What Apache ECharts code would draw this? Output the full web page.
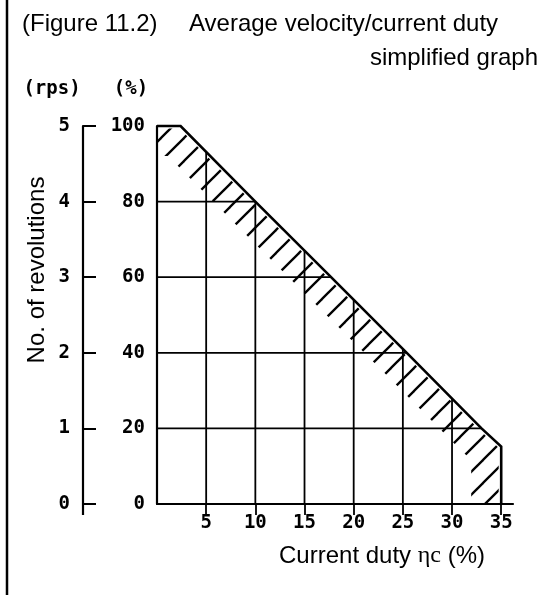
<!DOCTYPE html>
<html>
<head>
<meta charset="utf-8">
<script src="https://cdn.jsdelivr.net/npm/echarts@6/dist/echarts.min.js"></script>
<style>
  html, body { margin: 0; padding: 0; background: #fff; }
  #chart { width: 545px; height: 595px; }
</style>
</head>
<body>
<div id="chart"></div>
<script>
// ---- data ----
const boundaryX = [0, 2.4, 10, 17.7, 25.4, 33, 35, 35];
const boundaryY = [100, 100, 80, 60, 40, 20, 15.2, 0];
const gridXValues = [5, 10, 15, 20, 25, 30];
const gridYValues = [20, 40, 60, 80];
const xTickValues = [5, 10, 15, 20, 25, 30, 35];
const pctMin = 0, pctMax = 100, pctStep = 20;
const rpsMin = 0, rpsMax = 5, rpsStep = 1;
const xMin = 0, xMax = 36.2;

const titleLeft = '(Figure 11.2)';
const titleLine1 = 'Average velocity/current duty';
const titleLine2 = 'simplified graph';
const rpsUnit = '(rps)';
const pctUnit = '(%)';
const yName = 'No. of revolutions';

const SANS = '"Liberation Sans", Arial, sans-serif';
const MONO = '"DejaVu Sans Mono", "Liberation Mono", monospace';

// hatch pattern tile
function makeHatch() {
  const T = 23;
  const c = document.createElement('canvas');
  c.width = T; c.height = T;
  const g = c.getContext('2d');
  g.strokeStyle = '#000';
  g.lineWidth = 2.3;
  for (let k = -1; k <= 1; k++) {
    g.beginPath();
    g.moveTo(k * T - 2, T + 2);
    g.lineTo(k * T + T + 2, -2);
    g.stroke();
  }
  return c;
}
const hatchCanvas = makeHatch();

function boundaryAtX(x) {
  for (let i = 1; i < boundaryX.length; i++) {
    const x0 = boundaryX[i - 1], x1 = boundaryX[i];
    if (x >= x0 && x <= x1 && x1 > x0) {
      const t = (x - x0) / (x1 - x0);
      return boundaryY[i - 1] + t * (boundaryY[i] - boundaryY[i - 1]);
    }
  }
  return 0;
}
function boundaryAtY(y) {
  for (let i = 1; i < boundaryY.length; i++) {
    const y0 = boundaryY[i - 1], y1 = boundaryY[i];
    if (y <= y0 && y >= y1 && y0 > y1) {
      const t = (y0 - y) / (y0 - y1);
      return boundaryX[i - 1] + t * (boundaryX[i] - boundaryX[i - 1]);
    }
  }
  return 0;
}

function offsetPolyline(pts, d) {
  const segs = [];
  for (let i = 1; i < pts.length; i++) {
    const dx = pts[i][0] - pts[i - 1][0], dy = pts[i][1] - pts[i - 1][1];
    const L = Math.hypot(dx, dy);
    if (L < 1e-6) continue;
    const nx = -dy / L * d, ny = dx / L * d;
    segs.push([[pts[i - 1][0] + nx, pts[i - 1][1] + ny], [pts[i][0] + nx, pts[i][1] + ny]]);
  }
  const out = [segs[0][0]];
  for (let i = 1; i < segs.length; i++) {
    const a = segs[i - 1], b = segs[i];
    const p = a[0], r = [a[1][0] - a[0][0], a[1][1] - a[0][1]];
    const q = b[0], s = [b[1][0] - b[0][0], b[1][1] - b[0][1]];
    const den = r[0] * s[1] - r[1] * s[0];
    if (Math.abs(den) < 1e-9) { out.push(a[1]); continue; }
    const t = ((q[0] - p[0]) * s[1] - (q[1] - p[1]) * s[0]) / den;
    out.push([p[0] + t * r[0], p[1] + t * r[1]]);
  }
  out.push(segs[segs.length - 1][1]);
  return out;
}

function renderItem(params, api) {
  const children = [];
  const pts = boundaryX.map((x, i) => api.coord([x, boundaryY[i]]));
  const outer = offsetPolyline(pts, 2.5);
  const inner = offsetPolyline(pts, 30);
  const band = outer.concat(inner.slice().reverse());
  children.push({
    type: 'polygon',
    shape: { points: band },
    style: { fill: { image: hatchCanvas, repeat: 'repeat' }, stroke: null }
  });
  gridYValues.forEach(v => {
    const a = api.coord([xMin, v]);
    const b = api.coord([boundaryAtY(v), v]);
    children.push({ type: 'line', shape: { x1: a[0], y1: a[1], x2: b[0], y2: b[1] },
      style: { stroke: '#000', lineWidth: 1.8 } });
  });
  gridXValues.forEach(v => {
    const a = api.coord([v, 0]);
    const b = api.coord([v, boundaryAtX(v)]);
    children.push({ type: 'line', shape: { x1: a[0], y1: a[1], x2: b[0], y2: b[1] },
      style: { stroke: '#000', lineWidth: 1.8 } });
  });
  children.push({ type: 'polyline', shape: { points: pts },
    style: { stroke: '#000', lineWidth: 2.6, fill: null, lineJoin: 'miter' } });
  return { type: 'group', children: children };
}

const chart = echarts.init(document.getElementById('chart'), null, { renderer: 'canvas' });
const option = {
  animation: false,
  backgroundColor: '#fff',
  grid: { left: 157, top: 126, right: 32, bottom: 91, containLabel: false },
  xAxis: {
    type: 'value', min: xMin, max: xMax, interval: 5,
    axisLine: { show: true, lineStyle: { color: '#000', width: 2.2 } },
    axisTick: { show: true, customValues: xTickValues, length: 11, lineStyle: { color: '#000', width: 1.8 } },
    axisLabel: { show: true, customValues: xTickValues, margin: 10, color: '#000',
      fontFamily: MONO, fontSize: 19, fontWeight: 'bold' },
    splitLine: { show: false }
  },
  yAxis: [
    {
      type: 'value', min: pctMin, max: pctMax, interval: pctStep, position: 'left',
      axisLine: { show: true, lineStyle: { color: '#000', width: 2.2 } },
      axisTick: { show: false },
      axisLabel: { margin: 12, color: '#000', fontFamily: MONO, fontSize: 19, fontWeight: 'bold' },
      splitLine: { show: false }
    },
    {
      type: 'value', min: rpsMin, max: rpsMax, interval: rpsStep, position: 'left', offset: 74,
      axisLine: { show: true, lineStyle: { color: '#000', width: 2.2 } },
      axisTick: { show: true, inside: true, length: 13, lineStyle: { color: '#000', width: 2 } },
      axisLabel: { margin: 13, color: '#000', fontFamily: MONO, fontSize: 19, fontWeight: 'bold' },
      splitLine: { show: false }
    }
  ],
  series: [{
    type: 'custom', renderItem: renderItem, clip: false,
    xAxisIndex: 0, yAxisIndex: 0,
    data: [[0, 0]], silent: true
  }],
  graphic: [
    { type: 'line', shape: { x1: 7, y1: 0, x2: 7, y2: 595 }, style: { stroke: '#000', lineWidth: 2.5 } },
    { type: 'text', x: 22, y: 24, style: { text: titleLeft, font: '24px ' + SANS, fill: '#000',
      align: 'left', textAlign: 'left', verticalAlign: 'middle', textVerticalAlign: 'middle' } },
    { type: 'text', x: 189, y: 24, style: { text: titleLine1, font: '24px ' + SANS, fill: '#000',
      align: 'left', textAlign: 'left', verticalAlign: 'middle', textVerticalAlign: 'middle' } },
    { type: 'text', x: 538, y: 58, style: { text: titleLine2, font: '24px ' + SANS, fill: '#000',
      align: 'right', textAlign: 'right', verticalAlign: 'middle', textVerticalAlign: 'middle' } },
    { type: 'text', x: 52, y: 89, style: { text: rpsUnit, font: 'bold 19px ' + MONO, fill: '#000',
      align: 'center', textAlign: 'center', verticalAlign: 'middle', textVerticalAlign: 'middle' } },
    { type: 'text', x: 131, y: 89, style: { text: pctUnit, font: 'bold 19px ' + MONO, fill: '#000',
      align: 'center', textAlign: 'center', verticalAlign: 'middle', textVerticalAlign: 'middle' } },
    { type: 'text', x: 37, y: 270, rotation: Math.PI / 2,
      style: { text: yName, font: '24px ' + SANS, fill: '#000',
      align: 'center', textAlign: 'center', verticalAlign: 'middle', textVerticalAlign: 'middle' } },
    { type: 'text', x: 382, y: 556, style: {
      text: 'Current duty {s|ηc} (%)', font: '24px ' + SANS, fill: '#000',
      align: 'center', textAlign: 'center', verticalAlign: 'middle', textVerticalAlign: 'middle',
      rich: { s: { fontFamily: '"Liberation Serif", serif', fontSize: 24, fill: '#000', color: '#000' } } } }
  ]
};
chart.setOption(option);

// small extension of the rps axis line below its zero, as in the original drawing
const p0 = chart.convertToPixel({ yAxisIndex: 1 }, rpsMin);
const rpsAxisX = 157 - 74;
chart.setOption({
  graphic: option.graphic.concat([
    { type: 'line', shape: { x1: rpsAxisX, y1: p0, x2: rpsAxisX, y2: p0 + 11 },
      style: { stroke: '#000', lineWidth: 2.2 } }
  ])
});
</script>
</body>
</html>
